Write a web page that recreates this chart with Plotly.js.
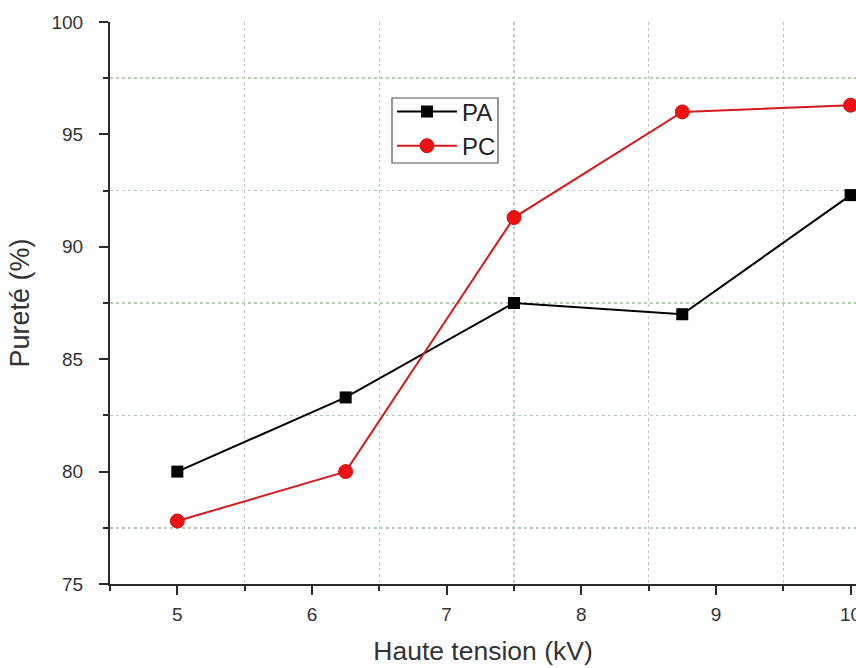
<!DOCTYPE html>
<html>
<head>
<meta charset="utf-8">
<script src="https://cdn.plot.ly/plotly-3.0.1.min.js"></script>
<style>html,body{margin:0;padding:0;overflow:hidden;background:#fff;}</style>
</head>
<body>
<div id="chart" style="width:856px;height:668px;"></div>
<script>
const voltage = [5, 6.25, 7.5, 8.75, 10];
const purityPA = [80.0, 83.3, 87.5, 87.0, 92.3];
const purityPC = [77.8, 80.0, 91.3, 96.0, 96.3];
const seriesNames = ['PA', 'PC'];

const axisColor = '#2b2b2b';
const gridColor = '#b9cbb9';
const font = 'Arial, "Liberation Sans", sans-serif';

const traces = [
  {
    x: voltage, y: purityPA, name: seriesNames[0], type: 'scatter', mode: 'lines+markers',
    line: {color: '#000000', width: 2},
    marker: {symbol: 'square', size: 12, color: '#000000'}
  },
  {
    x: voltage, y: purityPC, name: seriesNames[1], type: 'scatter', mode: 'lines+markers',
    line: {color: '#d41a1f', width: 2},
    marker: {symbol: 'circle', size: 14, color: '#ee1111', line: {color: '#cc1111', width: 1}}
  }
];

const xr = [4.5, 10.04];
const yr = [75, 100];

const layout = {
  width: 856, height: 668,
  margin: {l: 110, r: 0, t: 22, b: 84},
  paper_bgcolor: '#ffffff', plot_bgcolor: '#ffffff',
  font: {family: font, color: '#333333', size: 19},
  showlegend: true,
  legend: {
    x: 0.378, y: 0.88, xanchor: 'left', yanchor: 'top',
    bgcolor: 'rgba(0,0,0,0)', borderwidth: 0,
    font: {family: font, size: 24, color: '#222222'},
    itemwidth: 60, tracegroupgap: 0
  },
  shapes: [
    {type: 'rect', xref: 'paper', yref: 'paper', layer: 'below',
     x0: (392 - 110) / 746, x1: (498 - 110) / 746,
     y0: 1 - (163 - 22) / 562, y1: 1 - (98 - 22) / 562,
     line: {color: '#555555', width: 1.2}, fillcolor: '#ffffff'}
  ],
  xaxis: {
    range: xr, dtick: 1, tick0: 5, showgrid: false, zeroline: false,
    showline: true, linecolor: axisColor, linewidth: 2,
    ticks: 'outside', ticklen: 9, tickwidth: 2, tickcolor: axisColor,
    tickfont: {family: font, size: 19, color: '#333333'},
    ticklabeloverflow: 'allow', ticklabelstandoff: 3,
    minor: {dtick: 0.5, tick0: 4.5, showgrid: true, gridcolor: gridColor, griddash: 'dot', gridwidth: 1.5,
            ticks: 'outside', ticklen: 5, tickwidth: 2, tickcolor: axisColor},
    title: {text: 'Haute tension (kV)', font: {family: font, size: 26.5, color: '#333333'}, standoff: 18}
  },
  yaxis: {
    range: yr, dtick: 5, tick0: 75, showgrid: false, zeroline: false,
    showline: true, linecolor: axisColor, linewidth: 2,
    ticks: 'outside', ticklen: 9, tickwidth: 2, tickcolor: axisColor,
    tickfont: {family: font, size: 19, color: '#333333'},
    ticklabelstandoff: 12,
    minor: {dtick: 2.5, tick0: 75, showgrid: true, gridcolor: gridColor, griddash: 'dot', gridwidth: 1.5,
            ticks: 'outside', ticklen: 5, tickwidth: 2, tickcolor: axisColor},
    title: {text: 'Pureté (%)', font: {family: font, size: 27, color: '#333333'}, standoff: 14}
  },
  xaxis2: {
    overlaying: 'x', side: 'top', anchor: 'y', range: xr, dtick: 1, tick0: 5,
    showgrid: false, zeroline: false, showticklabels: false,
    showline: true, linecolor: axisColor, linewidth: 2,
    ticks: 'inside', ticklen: 10, tickwidth: 2, tickcolor: axisColor,
    minor: {dtick: 0.5, tick0: 4.5, showgrid: false, ticks: 'inside', ticklen: 5, tickwidth: 2, tickcolor: axisColor}
  },
  yaxis2: {
    overlaying: 'y', side: 'right', anchor: 'x', range: yr, dtick: 5, tick0: 75,
    showgrid: false, zeroline: false, showticklabels: false,
    showline: true, linecolor: axisColor, linewidth: 2,
    ticks: 'inside', ticklen: 6, tickwidth: 2, tickcolor: axisColor
  }
};

Plotly.newPlot('chart', traces, layout, {displayModeBar: false, staticPlot: true});
</script>
</body>
</html>
